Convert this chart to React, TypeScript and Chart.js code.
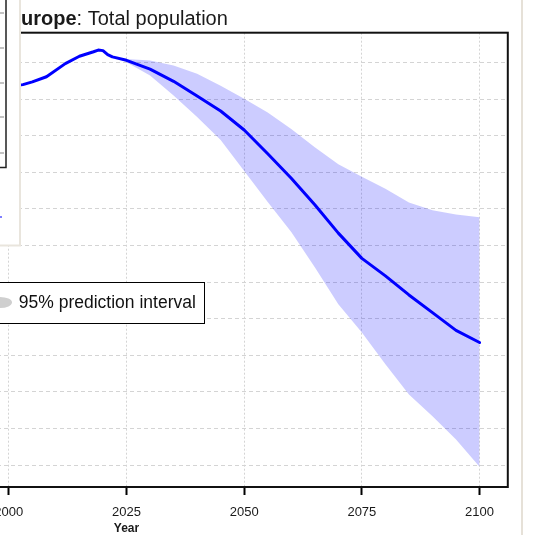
import React, { useEffect, useRef } from "react";
import { Chart, registerables } from "chart.js";

Chart.register(...registerables);

// ---- data (population, millions) ----
const medianYears = [2000, 2003, 2005, 2008, 2012, 2015, 2018, 2019, 2020, 2021, 2022, 2025, 2030, 2035, 2040, 2045, 2050, 2055, 2060, 2065, 2070, 2075, 2080, 2085, 2090, 2095, 2100];
const medianValues = [727, 728, 729.5, 732.3, 739.5, 743.5, 746, 746.9, 746.6, 744.4, 743.2, 741.3, 736.5, 729.8, 721.8, 713.6, 703.2, 690.2, 676.8, 662.3, 646.8, 633, 623.4, 613, 603.3, 593.6, 587];

const bandYears = [2022, 2025, 2030, 2035, 2040, 2045, 2050, 2055, 2060, 2065, 2070, 2075, 2080, 2085, 2090, 2095, 2100];
const upperValues = [743.2, 742, 741.2, 738.5, 734, 727.4, 720.3, 712.7, 703.8, 693.8, 684.5, 677.6, 671, 663.5, 659.3, 657, 655.5];
const lowerValues = [743.2, 740.3, 733, 722, 710.3, 697.7, 680.8, 663.8, 647.4, 628.2, 607.9, 592.5, 575.1, 558.5, 546.7, 534, 519];

const xTicks = [1950, 1975, 2000, 2025, 2050, 2075, 2100];
const yTicks = [520, 540, 560, 580, 600, 620, 640, 660, 680, 700, 720, 740];

const titleRegion = "Europe";
const titleRest = ": Total population";
const xTitle = "Year";
const legendLabel = "95% prediction interval";

const OFFSET = 300;
const CANVAS_W = 838;
const CANVAS_H = 535;
const FONT = '"Liberation Sans", Arial, sans-serif';
const GRID = "#d4d4d4";

const overlayPlugin = {
  id: "overlay",
  afterDraw(chart: any) {
    const { ctx, chartArea: a } = chart;
    ctx.save();
    // plot frame
    ctx.strokeStyle = "#111";
    ctx.lineWidth = 2;
    ctx.setLineDash([]);
    ctx.strokeRect(a.left, a.top, a.right - a.left, a.bottom - a.top);

    // title
    ctx.fillStyle = "#1a1a1a";
    ctx.textBaseline = "alphabetic";
    ctx.textAlign = "left";
    ctx.font = `bold 20px ${FONT}`;
    let tx = OFFSET + 7.7;
    ctx.fillText(titleRegion, tx, 25);
    tx += ctx.measureText(titleRegion).width;
    ctx.font = `20px ${FONT}`;
    ctx.fillText(titleRest, tx, 25);

    // x axis title
    ctx.font = `bold 12px ${FONT}`;
    ctx.textAlign = "center";
    ctx.fillText(xTitle, (a.left + a.right) / 2, 532);

    // right beige separator
    ctx.strokeStyle = "#e6e1d8";
    ctx.lineWidth = 2;
    ctx.beginPath();
    ctx.moveTo(OFFSET + 522, 0);
    ctx.lineTo(OFFSET + 522, CANVAS_H);
    ctx.stroke();

    // legend box
    ctx.fillStyle = "#fff";
    ctx.fillRect(OFFSET - 20, 282.5, 224, 41);
    ctx.strokeStyle = "#000";
    ctx.lineWidth = 1;
    ctx.strokeRect(OFFSET - 20 + 0.5, 282.5, 224, 41);
    ctx.fillStyle = "#cfcfcf";
    ctx.beginPath();
    ctx.ellipse(OFFSET, 302.5, 12, 5.5, 0, 0, Math.PI * 2);
    ctx.fill();
    ctx.fillStyle = "#111";
    ctx.textAlign = "left";
    ctx.font = `17.5px ${FONT}`;
    ctx.fillText(legendLabel, OFFSET + 18.8, 307.7);

    // top-left overlapping panel
    ctx.fillStyle = "#fff";
    ctx.fillRect(0, 0, OFFSET + 19.5, 245.5);
    ctx.strokeStyle = "#e9e5dd";
    ctx.lineWidth = 2;
    ctx.beginPath();
    ctx.moveTo(OFFSET + 20, 0);
    ctx.lineTo(OFFSET + 20, 246.5);
    ctx.moveTo(OFFSET - 5, 245.5);
    ctx.lineTo(OFFSET + 21, 245.5);
    ctx.stroke();
    ctx.strokeStyle = "#222";
    ctx.lineWidth = 1.5;
    ctx.beginPath();
    ctx.moveTo(OFFSET + 6, 0);
    ctx.lineTo(OFFSET + 6, 167.5);
    ctx.lineTo(OFFSET - 5, 167.5);
    ctx.stroke();
    ctx.strokeStyle = "#b0b0b0";
    ctx.lineWidth = 1.5;
    ctx.beginPath();
    [13, 48, 83, 117, 153].forEach((y) => {
      ctx.moveTo(OFFSET, y);
      ctx.lineTo(OFFSET + 4, y);
    });
    ctx.stroke();
    ctx.strokeStyle = "#5555ff";
    ctx.beginPath();
    ctx.moveTo(OFFSET, 217);
    ctx.lineTo(OFFSET + 2, 217);
    ctx.stroke();
    ctx.restore();
  },
};

export default function App() {
  const ref = useRef<HTMLCanvasElement | null>(null);

  useEffect(() => {
    if (!ref.current) return;
    const pts = (xs: number[], ys: number[]) => xs.map((x, i) => ({ x, y: ys[i] }));
    const chart = new Chart(ref.current, {
      type: "line",
      data: {
        datasets: [
          {
            label: "upper",
            data: pts(bandYears, upperValues),
            borderColor: "rgba(0,0,0,0)",
            backgroundColor: "rgba(0,0,255,0.2)",
            pointRadius: 0,
            fill: "+1",
            tension: 0,
          },
          {
            label: "lower",
            data: pts(bandYears, lowerValues),
            borderColor: "rgba(0,0,0,0)",
            pointRadius: 0,
            fill: false,
            tension: 0,
          },
          {
            label: "median",
            data: pts(medianYears, medianValues),
            borderColor: "#0000ff",
            borderWidth: 3,
            borderJoinStyle: "round",
            borderCapStyle: "round",
            pointRadius: 0,
            fill: false,
            tension: 0,
          },
        ],
      },
      options: {
        responsive: false,
        animation: false,
        devicePixelRatio: 1,
        layout: { padding: { left: 45.2, right: 30.2, top: 32.7, bottom: 0 } },
        plugins: { legend: { display: false }, tooltip: { enabled: false }, title: { display: false } },
        scales: {
          x: {
            type: "linear",
            min: 1944,
            max: 2106,
            afterBuildTicks: (s: any) => {
              s.ticks = xTicks.map((v) => ({ value: v }));
            },
            afterFit: (s: any) => {
              s.height = 48;
            },
            grid: { color: GRID, lineWidth: 1, drawTicks: true, tickLength: 8, tickColor: "#000", tickWidth: 2 },
            border: { display: false, dash: [2, 2] },
            ticks: {
              color: "#1a1a1a",
              font: { family: FONT, size: 13 },
              padding: 10,
              maxRotation: 0,
              autoSkip: false,
              callback: (v: any) => String(v),
            },
          },
          y: {
            type: "linear",
            min: 507.97,
            max: 756.4,
            afterBuildTicks: (s: any) => {
              s.ticks = yTicks.map((v) => ({ value: v }));
            },
            afterFit: (s: any) => {
              s.width = 0;
            },
            grid: { color: GRID, lineWidth: 1, drawTicks: false },
            border: { display: false, dash: [4, 3] },
            ticks: { display: false },
          },
        },
      },
      plugins: [overlayPlugin],
    } as any);
    return () => chart.destroy();
  }, []);

  return (
    <div style={{ position: "absolute", left: 0, top: 0, width: 538, height: 535, overflow: "hidden", background: "#fff" }}>
      <canvas
        ref={ref}
        width={CANVAS_W}
        height={CANVAS_H}
        style={{ position: "absolute", left: -OFFSET, top: 0, width: CANVAS_W, height: CANVAS_H }}
      />
    </div>
  );
}
